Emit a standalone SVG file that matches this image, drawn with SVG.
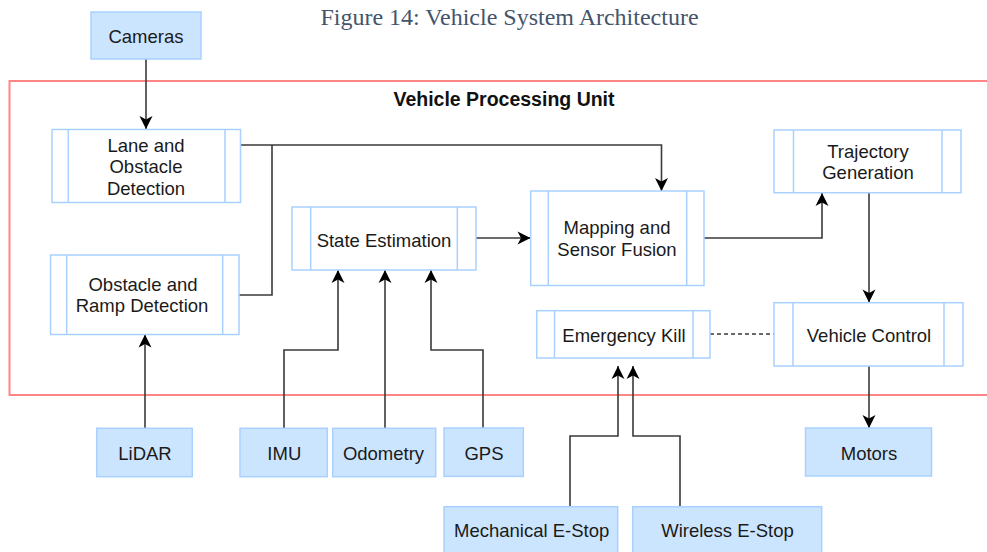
<svg xmlns="http://www.w3.org/2000/svg" width="987" height="552" viewBox="0 0 987 552">
<style>
  .src{fill:#cce5ff;stroke:#a9d1ff;stroke-width:1.5}
  .proc{fill:#ffffff;stroke:#a9d1ff;stroke-width:1.5}
  .bar{stroke:#a9d1ff;stroke-width:1.5;fill:none}
  .t{font-family:"Liberation Sans",Arial,sans-serif;font-size:18.5px;fill:#1a1a1a;text-anchor:middle}
  .c{fill:none;stroke:#3a3a3a;stroke-width:1.6}
  .ca{fill:none;stroke:#3a3a3a;stroke-width:1.6;marker-end:url(#arr)}
</style>
<defs>
  <marker id="arr" markerUnits="userSpaceOnUse" markerWidth="16" markerHeight="16" viewBox="-14 -8 16 16" refX="0" refY="0" orient="auto">
    <path d="M0,0 L-13,-6.5 L-9.5,0 L-13,6.5 Z" fill="#000"/>
  </marker>
</defs>
<rect width="987" height="552" fill="#ffffff"/>
<text x="509.5" y="25" style="font-family:'Liberation Serif','Times New Roman',serif;font-size:24px;fill:#44546a;text-anchor:middle">Figure 14: Vehicle System Architecture</text>

<g id="vpu">
  <rect x="9.5" y="81" width="990" height="314" fill="none" stroke="#ff8585" stroke-width="2"/>
  <text x="504" y="106" style="font-family:'Liberation Sans',Arial,sans-serif;font-size:19.5px;font-weight:bold;fill:#111;text-anchor:middle">Vehicle Processing Unit</text>
</g>

<g id="connectors">
  <path class="ca" d="M146,59 V129"/>
  <path class="ca" d="M241,145 H661.5 V191"/>
  <path class="c" d="M239,295 H272 V145"/>
  <path class="ca" d="M476,238 H530.5"/>
  <path class="ca" d="M704,238 H822 V193"/>
  <path class="ca" d="M869,193 V302.5"/>
  <path class="c" d="M710,334 H774" stroke-dasharray="4 3"/>
  <path class="ca" d="M869,366 V428"/>
  <path class="ca" d="M145,428 V334.5"/>
  <path class="ca" d="M284,428 V350 H338 V270"/>
  <path class="ca" d="M385,428 V270"/>
  <path class="ca" d="M483,428 V350 H431 V270"/>
  <path class="ca" d="M570,507 V436 H618 V366"/>
  <path class="ca" d="M680,507 V436 H633 V366"/>
</g>

<g id="cameras">
  <rect class="src" x="91" y="12" width="110" height="47"/>
  <text class="t" x="146" y="42.5">Cameras</text>
</g>

<g id="lane">
  <rect class="proc" x="52" y="129.5" width="188.5" height="73"/>
  <path class="bar" d="M68.3,129.5 V202.5 M225,129.5 V202.5"/>
  <text class="t" x="146" y="151.5">Lane and</text>
  <text class="t" x="146" y="173">Obstacle</text>
  <text class="t" x="146" y="194.5">Detection</text>
</g>

<g id="ramp">
  <rect class="proc" x="50.5" y="255" width="188.5" height="79.5"/>
  <path class="bar" d="M66.7,255 V334.5 M222.7,255 V334.5"/>
  <text class="t" x="143" y="291">Obstacle and</text>
  <text class="t" x="142" y="312.3">Ramp Detection</text>
</g>

<g id="state">
  <rect class="proc" x="292" y="207" width="184" height="63"/>
  <path class="bar" d="M310.7,207 V270 M457.3,207 V270"/>
  <text class="t" x="384" y="246.5">State Estimation</text>
</g>

<g id="mapping">
  <rect class="proc" x="530.7" y="191" width="173.3" height="94.5"/>
  <path class="bar" d="M548.3,191 V285.5 M686.7,191 V285.5"/>
  <text class="t" x="617" y="234.3">Mapping and</text>
  <text class="t" x="617" y="255.7">Sensor Fusion</text>
</g>

<g id="trajectory">
  <rect class="proc" x="774" y="130" width="187" height="62.7"/>
  <path class="bar" d="M793.5,130 V192.7 M942,130 V192.7"/>
  <text class="t" x="868" y="158.3">Trajectory</text>
  <text class="t" x="868" y="179">Generation</text>
</g>

<g id="control">
  <rect class="proc" x="774" y="302.7" width="189" height="63.3"/>
  <path class="bar" d="M793,302.7 V366 M944,302.7 V366"/>
  <text class="t" x="869" y="341.7">Vehicle Control</text>
</g>

<g id="kill">
  <rect class="proc" x="536.7" y="310.7" width="173.3" height="47.3"/>
  <path class="bar" d="M554.5,310.7 V358 M693,310.7 V358"/>
  <text class="t" x="624" y="341.7">Emergency Kill</text>
</g>

<g id="lidar">
  <rect class="src" x="96.7" y="428.3" width="95.6" height="48.4"/>
  <text class="t" x="145" y="460">LiDAR</text>
</g>
<g id="imu">
  <rect class="src" x="240" y="428.3" width="87.3" height="48.4"/>
  <text class="t" x="284.3" y="460">IMU</text>
</g>
<g id="odometry">
  <rect class="src" x="332.7" y="428.3" width="103" height="48.4"/>
  <text class="t" x="383.5" y="460">Odometry</text>
</g>
<g id="gps">
  <rect class="src" x="444" y="428" width="79.3" height="48.4"/>
  <text class="t" x="484" y="460">GPS</text>
</g>
<g id="motors">
  <rect class="src" x="805.5" y="428" width="126" height="48"/>
  <text class="t" x="869" y="460">Motors</text>
</g>
<g id="mech">
  <rect class="src" x="444" y="506.7" width="173.7" height="50"/>
  <text class="t" x="531.7" y="536.7">Mechanical E-Stop</text>
</g>
<g id="wireless">
  <rect class="src" x="632.7" y="506.7" width="189" height="50"/>
  <text class="t" x="727.5" y="536.7">Wireless E-Stop</text>
</g>
</svg>
